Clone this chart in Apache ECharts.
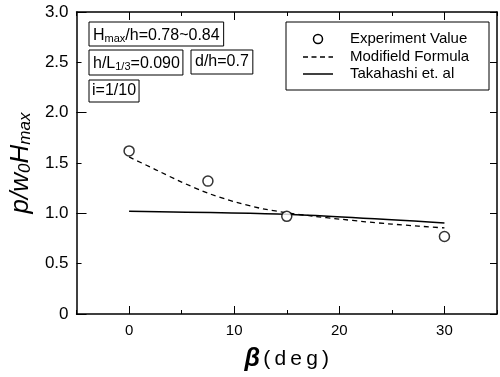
<!DOCTYPE html>
<html><head><meta charset="utf-8">
<script src="https://cdn.jsdelivr.net/npm/echarts@6/dist/echarts.min.js"></script>
<style>html,body{margin:0;padding:0;background:#fff}#c{width:500px;height:377px}</style>
</head><body><div id="c"></div>
<script>
// Data
const experimentX = [0, 7.5, 15, 30];
const experimentY = [1.62, 1.32, 0.97, 0.77];
const modifiedX = [0, 2.5, 5, 7.5, 10, 12.5, 15, 17.5, 20, 22.5, 25, 27.5, 30];
const modifiedY = [1.56, 1.435, 1.31, 1.20, 1.115, 1.05, 1.005, 0.972, 0.943, 0.916, 0.893, 0.873, 0.855];
const takahashiX = [0, 15, 30];
const takahashiY = [1.02, 0.99, 0.905];
const xMajorTicks = [0, 10, 20, 30];
const yMajorTicks = [0, 1, 2, 3];
const seriesNames = ['Experiment Value', 'Modifield Formula', 'Takahashi et. al'];

const FONT = '"Liberation Sans", Arial, Helvetica, sans-serif';
const zip = (a, b) => a.map((v, i) => [v, b[i]]);

const baseX = {type: 'value', min: -5, max: 35, gridIndex: 0, splitLine: {show: false}};
const baseY = {type: 'value', min: 0, max: 3, gridIndex: 0, splitLine: {show: false}};
const line = {show: true, onZero: false, lineStyle: {color: '#000', width: 1.5}};
const noLine = {show: false, onZero: false};
const tk = {color: '#000', width: 1};

const chart = echarts.init(document.getElementById('c'), null, {renderer: 'canvas'});
chart.setOption({
  animation: false,
  backgroundColor: '#fff',
  grid: {left: 75, right: 3, top: 12, bottom: 54, containLabel: false},
  xAxis: [
    Object.assign({}, baseX, {position: 'bottom', interval: 5, axisLine: line,
      axisTick: {show: true, inside: true, length: 4, lineStyle: tk},
      axisLabel: {color: '#000', fontSize: 15, fontFamily: FONT, margin: 9,
        formatter: v => (v % 10 === 0 && v >= 0 && v <= 30) ? String(v) : ''},
      name: '{b|β} {d|(\u2009d\u2009e\u2009g\u2009)}', nameLocation: 'middle', nameGap: 33,
      nameTextStyle: {rich: {
        b: {fontSize: 25, fontStyle: 'italic', fontWeight: 'bold', fontFamily: FONT, color: '#000'},
        d: {fontSize: 21, fontFamily: FONT, color: '#000'}}}}),
    Object.assign({}, baseX, {position: 'bottom', axisLine: noLine,
      axisTick: {show: true, inside: true, length: 8, customValues: xMajorTicks, lineStyle: tk},
      axisLabel: {show: false}}),
    Object.assign({}, baseX, {position: 'top', interval: 5, axisLine: line,
      axisTick: {show: true, inside: true, length: 4, lineStyle: tk},
      axisLabel: {show: false}}),
    Object.assign({}, baseX, {position: 'top', axisLine: noLine,
      axisTick: {show: true, inside: true, length: 8, customValues: xMajorTicks, lineStyle: tk},
      axisLabel: {show: false}})
  ],
  yAxis: [
    Object.assign({}, baseY, {position: 'left', interval: 0.5, axisLine: line,
      axisTick: {show: true, inside: true, length: 5, lineStyle: tk},
      axisLabel: {color: '#000', fontSize: 17, fontFamily: FONT, margin: 8,
        formatter: v => v === 0 ? '0' : v.toFixed(1)},
      name: '{i|p/w}{s|0}{i|H}{s|max}', nameLocation: 'middle', nameGap: 35, nameRotate: 90,
      nameTextStyle: {rich: {
        i: {fontSize: 26, fontStyle: 'italic', fontFamily: FONT, color: '#000', lineHeight: 32, verticalAlign: 'bottom'},
        s: {fontSize: 17, fontStyle: 'italic', fontFamily: FONT, color: '#000', lineHeight: 26, verticalAlign: 'bottom'}}}}),
    Object.assign({}, baseY, {position: 'left', axisLine: noLine,
      axisTick: {show: true, inside: true, length: 10, customValues: yMajorTicks, lineStyle: tk},
      axisLabel: {show: false}}),
    Object.assign({}, baseY, {position: 'right', interval: 0.5, axisLine: line,
      axisTick: {show: true, inside: true, length: 7, lineStyle: tk},
      axisLabel: {show: false}})
  ],
  graphic: [
    // parameter boxes
    {type: 'text', x: 89, y: 22, style: {
      text: '{n|H}{s|max}{n|/h=0.78~0.84}', fill: '#000',
      borderColor: '#000', borderWidth: 1, padding: [3, 4, 2, 4],
      rich: {n: {font: '16px ' + FONT, fill: '#000', lineHeight: 19, verticalAlign: 'bottom'},
             s: {font: '11px ' + FONT, fill: '#000', lineHeight: 15, verticalAlign: 'bottom'}}}},
    {type: 'text', x: 89, y: 50, style: {
      text: '{n|h/L}{s|1/3}{n|=0.090}', fill: '#000',
      borderColor: '#000', borderWidth: 1, padding: [3, 3, 3, 4],
      rich: {n: {font: '16px ' + FONT, fill: '#000', lineHeight: 19, verticalAlign: 'bottom'},
             s: {font: '11px ' + FONT, fill: '#000', lineHeight: 15, verticalAlign: 'bottom'}}}},
    {type: 'text', x: 191, y: 50, style: {
      text: 'd/h=0.7', fill: '#000', font: '16px ' + FONT,
      borderColor: '#000', borderWidth: 1, padding: [4, 4, 4, 4]}},
    {type: 'text', x: 89, y: 80, style: {
      text: 'i=1/10', fill: '#000', font: '16px ' + FONT,
      borderColor: '#000', borderWidth: 1, padding: [3, 3, 3, 3]}},
    // legend
    {type: 'rect', shape: {x: 286, y: 22, width: 203, height: 68},
      style: {fill: '#fff', stroke: '#000', lineWidth: 1}, z: 10},
    {type: 'circle', shape: {cx: 318, cy: 39, r: 4.5},
      style: {fill: '#fff', stroke: '#000', lineWidth: 1.5}, z: 11},
    {type: 'line', shape: {x1: 303, y1: 57, x2: 333, y2: 57},
      style: {stroke: '#000', lineWidth: 1.3, lineDash: [5, 3.5]}, z: 11},
    {type: 'line', shape: {x1: 303, y1: 74, x2: 333, y2: 74},
      style: {stroke: '#000', lineWidth: 1.5}, z: 11},
    {type: 'text', x: 350, y: 39, style: {text: seriesNames[0], font: '15px ' + FONT, fill: '#000', verticalAlign: 'middle'}, z: 11},
    {type: 'text', x: 350, y: 57, style: {text: seriesNames[1], font: '15px ' + FONT, fill: '#000', verticalAlign: 'middle'}, z: 11},
    {type: 'text', x: 350, y: 74, style: {text: seriesNames[2], font: '15px ' + FONT, fill: '#000', verticalAlign: 'middle'}, z: 11}
  ],
  series: [
    {name: seriesNames[0], type: 'scatter', xAxisIndex: 0, yAxisIndex: 0,
      data: zip(experimentX, experimentY), symbol: 'circle', symbolSize: 10,
      itemStyle: {color: '#fff', borderColor: '#000', borderWidth: 1.5}, z: 5},
    {name: seriesNames[1], type: 'line', xAxisIndex: 0, yAxisIndex: 0,
      data: zip(modifiedX, modifiedY), smooth: 0.2, symbol: 'none', showSymbol: false,
      lineStyle: {color: '#000', width: 1.3, type: [5, 4]}, itemStyle: {color: '#000'}},
    {name: seriesNames[2], type: 'line', xAxisIndex: 0, yAxisIndex: 0,
      data: zip(takahashiX, takahashiY), smooth: 0.2, symbol: 'none', showSymbol: false,
      lineStyle: {color: '#000', width: 1.5}, itemStyle: {color: '#000'}}
  ]
});
</script></body></html>
